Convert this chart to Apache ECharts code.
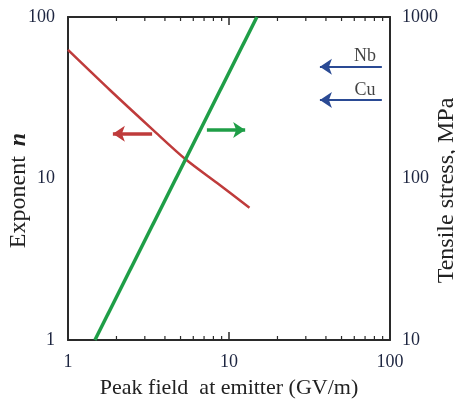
<!DOCTYPE html>
<html>
<head>
<meta charset="utf-8">
<script src="https://cdn.jsdelivr.net/npm/echarts@6/dist/echarts.min.js"></script>
<style>
  html, body { margin: 0; padding: 0; background: #fff; }
</style>
</head>
<body>
<div id="main" style="width:455px;height:403px;"></div>
<script>
// 读图得到的数据
var xRange = [1, 100];
var leftRange = [1, 100];
var rightRange = [10, 1000];
// 指数 n (左轴)
var exponentN = [[1, 62.5], [1.82, 35.3], [3.37, 20], [5.4, 13.1], [8.4, 9.4], [13.4, 6.6]];
// 拉伸应力 MPa (右轴)
var stress = [[1.47, 10], [14.9, 1000]];
// 箭头 [起点, 终点]
var redArrow = [[3.33, 18.9], [1.9, 18.9]];
var greenArrow = [[7.29, 20], [12.6, 20]];
var nbArrow = [[89, 492], [36.7, 492]];
var cuArrow = [[89, 306], [36.7, 306]];
var metalLabels = [['Nb', 70, 492], ['Cu', 70, 306]];
// 刻度
var majorTicks = [10];
var minorTicks = [2, 3, 4, 5, 6, 7, 8, 9, 20, 30, 40, 50, 60, 70, 80, 90];

var serif = '"Liberation Serif", "DejaVu Serif", serif';
var axisColor = '#2a2a2a';
var labelColor = '#1d2540';
var pad = '\u00a0\u00a0\u00a0\u00a0'; // 名字往下挪一点

var myChart = echarts.init(document.getElementById('main'));

// 自己画刻度 (四边朝内)
function tickRender(kind, L, w) {
  return function (params, api) {
    var v = api.value(0);
    var p1, p2, shapes;
    if (kind === 'x') {
      p1 = api.coord([v, leftRange[0]]);
      p2 = api.coord([v, leftRange[1]]);
      shapes = [[p1[0], p1[1], p1[0], p1[1] - L], [p2[0], p2[1], p2[0], p2[1] + L]];
    } else {
      p1 = api.coord([xRange[0], v]);
      p2 = api.coord([xRange[1], v]);
      shapes = [[p1[0], p1[1], p1[0] + L, p1[1]], [p2[0], p2[1], p2[0] - L, p2[1]]];
    }
    return {
      type: 'group',
      children: shapes.map(function (s) {
        return {
          type: 'line',
          shape: { x1: s[0], y1: s[1], x2: s[2], y2: s[3] },
          style: { stroke: axisColor, lineWidth: w }
        };
      })
    };
  };
}

function tickSeries(kind, values, L, w) {
  return {
    type: 'custom',
    xAxisIndex: 0,
    yAxisIndex: 0,
    silent: true,
    renderItem: tickRender(kind, L, w),
    data: values.map(function (v) { return kind === 'x' ? [v, 1] : [1, v]; })
  };
}

function arrowSeries(coords, color, yIndex, width) {
  return {
    type: 'lines',
    coordinateSystem: 'cartesian2d',
    xAxisIndex: 0,
    yAxisIndex: yIndex,
    symbol: ['none', 'arrow'],
    symbolSize: [9, 12],
    lineStyle: { color: color, width: width, opacity: 1, curveness: 0 },
    silent: true,
    data: [{ coords: coords }]
  };
}

function logAxisBase(range) {
  return {
    type: 'log',
    logBase: 10,
    min: range[0],
    max: range[1],
    nameMoveOverlap: false,
    splitLine: { show: false },
    axisLine: { show: true, onZero: false, lineStyle: { color: axisColor, width: 2 } },
    axisTick: { show: false },
    axisLabel: {
      show: true, margin: 12, color: labelColor, fontFamily: serif, fontSize: 18,
      showMinLabel: true, showMaxLabel: true,
      formatter: function (v) { return String(Math.round(v)); }
    }
  };
}

var xBottom = logAxisBase(xRange);
xBottom.position = 'bottom';
xBottom.axisLabel.margin = 13;
xBottom.name = 'Peak field  at emitter (GV/m)';
xBottom.nameLocation = 'middle';
xBottom.nameGap = 37;
xBottom.nameTextStyle = { color: '#222', fontFamily: serif, fontSize: 22 };

var xTop = logAxisBase(xRange);
xTop.position = 'top';
xTop.axisLabel = { show: false };

var yLeft = logAxisBase(leftRange);
yLeft.position = 'left';
yLeft.axisLabel.margin = 13;
yLeft.name = '{a|Exponent}   {b|n}{a|' + pad + '}';
yLeft.nameLocation = 'middle';
yLeft.nameGap = 37;
yLeft.nameTextStyle = {
  rich: {
    a: { color: '#222', fontFamily: serif, fontSize: 24 },
    b: { color: '#222', fontFamily: serif, fontSize: 24, fontStyle: 'italic', fontWeight: 'bold' }
  }
};

var yRight = logAxisBase(rightRange);
yRight.position = 'right';
yRight.name = 'Tensile stress, MPa' + pad;
yRight.nameLocation = 'middle';
yRight.nameGap = 45;
yRight.nameTextStyle = { color: '#222', fontFamily: serif, fontSize: 24 };

myChart.setOption({
  animation: false,
  grid: { left: 68, right: 65, top: 17, bottom: 63, containLabel: false, outerBoundsMode: 'none' },
  xAxis: [xBottom, xTop],
  yAxis: [yLeft, yRight],
  series: [
    {
      name: 'Exponent',
      type: 'line',
      xAxisIndex: 0,
      yAxisIndex: 0,
      smooth: 0.3,
      showSymbol: false,
      lineStyle: { color: '#bf3b3b', width: 2.5 },
      data: exponentN
    },
    {
      name: 'Tensile stress',
      type: 'line',
      xAxisIndex: 0,
      yAxisIndex: 1,
      showSymbol: false,
      clip: true,
      lineStyle: { color: '#1f9e47', width: 3.5 },
      data: stress
    },
    arrowSeries(redArrow, '#bf3b3b', 0, 3.5),
    arrowSeries(greenArrow, '#1f9e47', 0, 3.5),
    arrowSeries(nbArrow, '#2a4a94', 1, 2),
    arrowSeries(cuArrow, '#2a4a94', 1, 2),
    {
      type: 'scatter',
      xAxisIndex: 0,
      yAxisIndex: 1,
      symbolSize: 0,
      silent: true,
      label: {
        show: true,
        position: 'top',
        distance: 1,
        color: '#111',
        fontFamily: serif,
        fontSize: 18,
        formatter: function (p) { return p.data[2]; }
      },
      data: metalLabels.map(function (m) { return [m[1], m[2], m[0]]; })
    },
    tickSeries('x', majorTicks, 8, 1.5),
    tickSeries('y', majorTicks, 9, 1.5),
    tickSeries('x', minorTicks, 4, 1.2),
    tickSeries('y', minorTicks, 4, 1.2)
  ]
});
</script>
</body>
</html>
